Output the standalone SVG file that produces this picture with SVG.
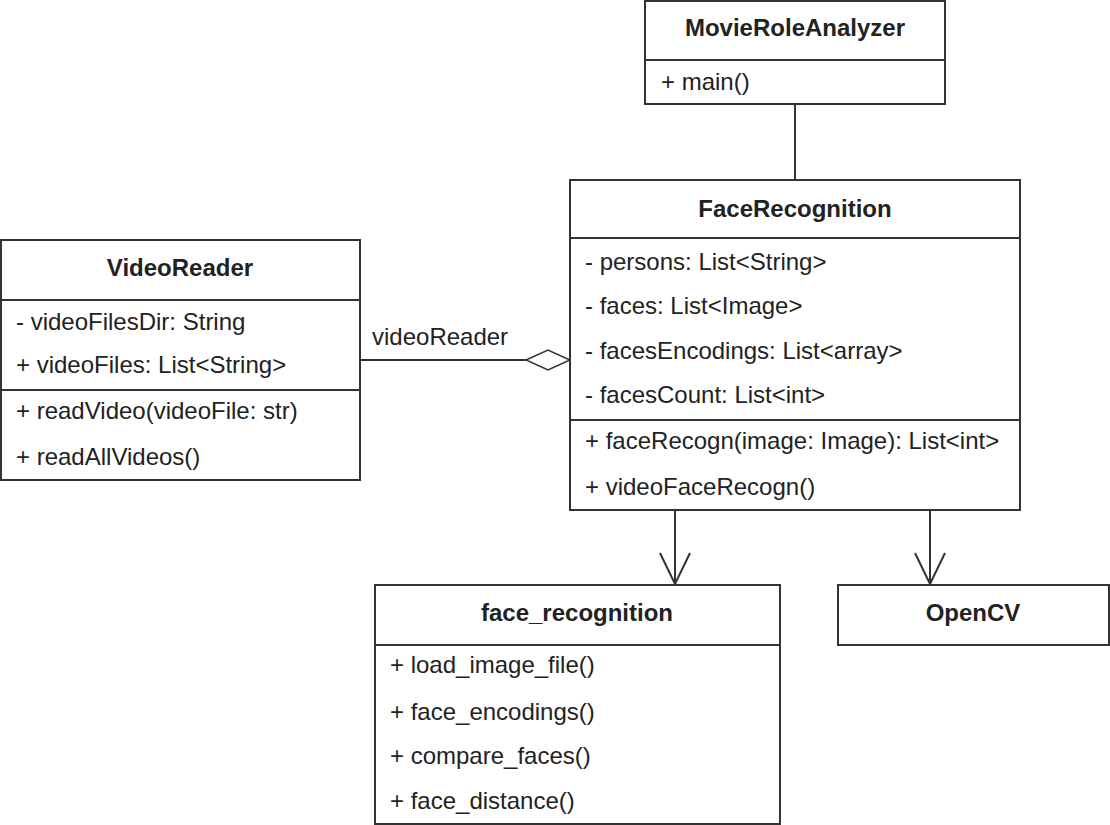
<svg xmlns="http://www.w3.org/2000/svg" width="1110" height="825" viewBox="0 0 1110 825">
<style>
.box{fill:#fff;stroke:#333;stroke-width:2}
.sep{stroke:#333;stroke-width:2}
.t{font-family:"Liberation Sans",Arial,sans-serif;font-size:24px;fill:#222}
.b{font-weight:bold;text-anchor:middle}
.c{fill:none;stroke:#333;stroke-width:2}
</style>
<rect width="1110" height="825" fill="#fff"/>
<g id="connectors">
<line class="c" x1="795" y1="104" x2="795" y2="180"/>
<line class="c" x1="360" y1="360" x2="526" y2="360"/>
<polygon points="526,360 548,350 570,360 548,370" fill="#fff" stroke="#333" stroke-width="1.5"/>
<text class="t" x="372" y="345">videoReader</text>
<line class="c" x1="675" y1="510" x2="675" y2="585"/>
<polyline class="c" points="660,553 675,584 690,553" stroke-width="1.5"/>
<line class="c" x1="930" y1="510" x2="930" y2="585"/>
<polyline class="c" points="915,553 930,584 945,553" stroke-width="1.5"/>
</g>
<g id="MovieRoleAnalyzer">
<rect class="box" x="645" y="1" width="300" height="103"/>
<line class="sep" x1="645" y1="60" x2="945" y2="60"/>
<text class="t b" x="795" y="36">MovieRoleAnalyzer</text>
<text class="t" x="661" y="90">+ main()</text>
</g>
<g id="FaceRecognition">
<rect class="box" x="570" y="180" width="450" height="330"/>
<line class="sep" x1="570" y1="238" x2="1020" y2="238"/>
<line class="sep" x1="570" y1="420" x2="1020" y2="420"/>
<text class="t b" x="795" y="217">FaceRecognition</text>
<text class="t" x="585" y="270">- persons: List&lt;String&gt;</text>
<text class="t" x="585" y="314">- faces: List&lt;Image&gt;</text>
<text class="t" x="585" y="359">- facesEncodings: List&lt;array&gt;</text>
<text class="t" x="585" y="403">- facesCount: List&lt;int&gt;</text>
<text class="t" x="585" y="449">+ faceRecogn(image: Image): List&lt;int&gt;</text>
<text class="t" x="585" y="495">+ videoFaceRecogn()</text>
</g>
<g id="VideoReader">
<rect class="box" x="1" y="240" width="359" height="240"/>
<line class="sep" x1="1" y1="300" x2="360" y2="300"/>
<line class="sep" x1="1" y1="390" x2="360" y2="390"/>
<text class="t b" x="180" y="276">VideoReader</text>
<text class="t" x="16" y="330">- videoFilesDir: String</text>
<text class="t" x="16" y="373">+ videoFiles: List&lt;String&gt;</text>
<text class="t" x="16" y="419">+ readVideo(videoFile: str)</text>
<text class="t" x="16" y="465">+ readAllVideos()</text>
</g>
<g id="face_recognition">
<rect class="box" x="375" y="585" width="405" height="239"/>
<line class="sep" x1="375" y1="645" x2="780" y2="645"/>
<text class="t b" x="577" y="621">face_recognition</text>
<text class="t" x="390" y="673">+ load_image_file()</text>
<text class="t" x="390" y="720">+ face_encodings()</text>
<text class="t" x="390" y="764">+ compare_faces()</text>
<text class="t" x="390" y="809">+ face_distance()</text>
</g>
<g id="OpenCV">
<rect class="box" x="838" y="585" width="271" height="60"/>
<text class="t b" x="973" y="621">OpenCV</text>
</g>
</svg>
